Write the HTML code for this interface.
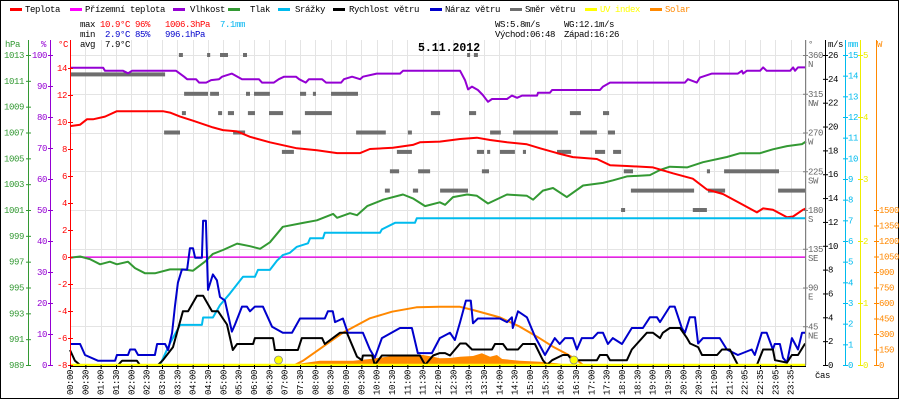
<!DOCTYPE html>
<html><head><meta charset="utf-8"><style>
html,body{margin:0;padding:0;background:#fff}
svg{display:block}
text{font-family:"Liberation Mono","DejaVu Sans Mono",monospace;font-size:9px;letter-spacing:-0.4px}
</style></head><body>
<svg id="c" xmlns="http://www.w3.org/2000/svg" width="900" height="400" viewBox="0 0 900 400">
<rect x="0.5" y="0.5" width="898" height="398" fill="#fff" stroke="#000"/>
<g id="grid"></g>
<g id="series"></g>
<g id="axes"></g>
<g id="legend"></g>
<g>
<text x="80" y="27">max</text><text x="100" y="27" fill="#f00">10.9°C</text><text x="135" y="27" fill="#f00">96%</text><text x="165" y="27" fill="#f00">1006.3hPa</text><text x="220" y="27" fill="#00b4f0">7.1mm</text>
<text x="80" y="37">min</text><text x="105" y="37" fill="#00c">2.9°C</text><text x="135" y="37" fill="#00c">85%</text><text x="165" y="37" fill="#00c">996.1hPa</text>
<text x="80" y="47">avg</text><text x="105" y="47">7.9°C</text>
<text x="495" y="27">WS:5.8m/s</text><text x="564" y="27">WG:12.1m/s</text>
<text x="495" y="37">Východ:06:48</text><text x="564" y="37">Západ:16:26</text>
<text x="418" y="51" style="font-size:11.5px;font-weight:bold;letter-spacing:0">5.11.2012</text>
</g>
</svg>
<script>
// ---------- data ----------
const tempT=[0,.33,.55,.75,1.14,1.53,1.96,3.03,3.26,3.59,4.01,4.66,4.99,5.45,5.87,6.52,7.4,8.05,8.71,9.46,9.78,10.53,11.18,11.41,12.06,12.72,13.27,13.7,14.25,14.9,15.33,15.88,16.4,17.18,17.61,18.16,19.01,19.66,20.31,20.77,21.29,21.85,22.4,22.6,22.92,23.38,23.58,23.9,24];
const tempV=[9.7,9.8,10.2,10.2,10.4,10.8,10.8,10.8,10.7,10.4,10.1,9.6,9.4,9.3,8.9,8.5,8.05,7.9,7.7,7.7,8.0,8.1,8.3,8.5,8.55,8.74,8.84,8.67,8.5,8.35,8.05,7.7,7.4,7.26,6.8,6.74,6.64,6.2,5.8,5.0,4.67,3.98,3.3,3.6,3.5,2.94,3.0,3.5,3.6];
const groundTempT=[0,24];
const groundTempV=[0,0];
const humT=[0,1.08,1.14,1.73,1.89,2.02,3.46,3.72,3.82,4.11,4.21,4.44,4.6,4.86,4.96,5.28,5.61,6.16,6.26,6.65,6.81,6.98,7.37,7.47,7.69,7.79,8.22,8.35,8.84,8.93,9.2,9.46,9.55,10.0,10.76,10.86,12.72,12.88,12.98,13.11,13.3,13.46,13.63,13.76,14.25,14.41,14.58,14.74,15.23,15.26,15.65,15.72,17.28,17.38,17.61,20.05,20.15,20.44,20.54,20.93,21.78,21.91,21.95,22.07,22.5,22.6,22.72,23.48,23.58,23.64,23.74,24];
const humV=[95.9,95.9,94.9,94.9,94.1,94.9,94.9,93,92.2,92.2,91.1,91.1,91.9,92.2,93,94,92.2,92.2,91.1,91.1,92.2,93,93,92.2,91.1,92.2,92.2,91.1,91.1,92.2,93,92.2,93,94,94,94.9,94.9,91.9,88.9,89.8,88.7,87.1,84.9,85.8,85.8,86.9,86.2,86.9,86.9,87.8,87.8,88.7,88.7,89.8,91.1,91.1,92.2,91.1,92.7,94,94,94.9,94,94.9,94.9,96,94.9,94.9,96,94.9,96,96];
const presT=[0,.33,.65,.98,1.3,1.53,1.89,2.12,2.45,2.77,3.26,3.68,4.01,4.4,4.66,4.99,5.45,5.87,6.2,6.52,6.94,7.6,8.05,8.58,8.71,9.13,9.36,9.69,10.21,10.86,11.18,11.58,12.06,12.23,12.49,12.95,13.27,13.63,14.25,14.9,15.1,15.42,15.75,16.2,16.73,17.38,17.71,18.16,18.91,19.24,19.56,20.12,20.64,21.42,21.85,22.5,22.92,23.38,23.87,24];
const presV=[997.3,997.4,997.2,996.8,997.0,996.8,997.0,996.5,996.1,996.1,996.4,996.4,996.3,997.0,997.6,997.9,998.4,998.2,998.0,998.5,999.7,1000.0,1000.2,1000.7,1000.4,1000.75,1000.6,1001.3,1001.8,1002.2,1001.9,1001.3,1001.6,1001.4,1002.0,1002.2,1002.1,1001.5,1002.2,1002.1,1001.8,1002.5,1002.7,1002.0,1002.9,1003.1,1003.3,1003.6,1003.7,1004.1,1004.35,1004.3,1004.7,1005.1,1005.4,1005.4,1005.7,1005.95,1006.1,1006.3];
const rainT=[0,2.93,3.26,3.59,3.68,4.30,4.34,4.66,4.89,5.22,5.64,6.03,6.13,6.52,6.75,6.94,7.17,7.40,7.76,7.83,8.25,8.31,10.11,10.17,10.6,11.25,11.31,24];
const rainV=[0,0,1.05,1.94,1.94,1.94,2.3,2.3,2.9,3.47,4.27,4.27,4.6,4.6,5.05,5.32,5.43,5.72,5.89,6.13,6.13,6.4,6.4,6.56,6.88,6.88,7.1,7.1];
const windT=[0,.16,.33,1.57,1.70,2.18,2.28,2.87,3.03,3.36,3.68,3.85,4.14,4.34,4.63,4.83,5.12,5.31,5.45,5.97,6.03,6.62,6.68,7.43,7.56,8.22,8.31,8.80,9.03,9.36,9.52,9.55,9.85,9.94,10.17,11.41,11.58,11.84,12.06,12.23,12.39,12.72,12.91,13.11,13.76,13.86,14.12,14.25,14.61,14.77,15.16,15.42,15.55,15.72,16.07,16.24,16.37,17.18,17.28,17.51,17.61,18.16,18.32,18.81,19.01,19.24,19.33,19.56,19.89,20.12,20.22,20.48,20.61,21.10,21.26,21.52,21.78,22.40,22.60,22.92,22.99,23.38,23.54,23.74,23.97];
const windV=[1.26,.36,0,0,.36,.36,0,0,.4,1.5,4.5,4.5,5.8,5.8,4.5,4.5,3.4,1.26,1.76,1.76,2.26,2.26,1.26,1.26,2.26,2.26,1.76,2.7,2.7,.7,.4,.8,.8,0,.8,.8,0,.8,1.0,1.0,.8,1.8,1.8,1.3,1.3,1.76,1.76,1.3,1.3,1.76,1.76,.4,0,.4,.84,.84,.4,.4,.84,.84,.4,.4,1.3,2.7,2.7,2.26,2.7,3.1,3.1,2.26,1.8,1.5,.84,.84,1.3,1.3,0,0,1.3,1.3,.4,.2,.84,.84,1.8];
const gustT=[0,.33,.49,.91,1.47,1.53,1.89,1.96,2.12,2.22,2.77,2.84,3.10,3.20,3.33,3.42,3.52,3.65,3.82,3.91,4.01,4.08,4.30,4.34,4.43,4.50,4.66,4.79,4.89,5.05,5.28,5.38,5.61,5.77,5.87,6.03,6.29,6.59,6.94,7.24,7.50,8.31,8.41,8.57,8.64,8.90,9.06,9.55,9.78,9.94,10.17,10.76,11.15,11.34,11.80,12.06,12.39,12.55,12.72,12.91,13.07,13.14,13.30,14.02,14.25,14.41,14.44,14.61,14.90,15.16,15.49,15.81,15.97,16.14,16.40,16.53,16.69,17.05,17.21,17.38,17.54,17.70,18.00,18.32,18.68,18.91,19.14,19.24,19.56,19.72,19.95,20.05,20.21,20.38,20.48,20.64,21.19,21.42,21.78,22.23,22.33,22.56,22.72,22.92,22.98,23.15,23.25,23.38,23.54,23.74,23.87,23.97];
const gustV=[1.76,1.76,.84,.36,.36,.84,.84,1.3,1.3,.84,.84,1.76,1.76,1.26,2.7,4.9,6.9,8.0,8.0,9.8,9.8,9.0,9.0,12.1,12.1,6.3,7.6,7.1,5.7,5.4,2.8,3.4,4.9,4.9,4.5,4.9,4.9,3.2,2.7,2.7,3.9,3.9,4.5,4.5,3.6,3.9,2.7,2.7,1.3,.6,2.26,3.1,3.1,1.0,1.0,2.26,2.7,2.1,3.6,5.4,5.4,3.5,3.9,3.9,3.6,4.0,3.1,4.5,4.0,2.4,.84,2.26,1.76,2.26,2.26,1.3,2.26,2.26,2.7,2.7,1.76,2.26,1.76,3.1,3.1,4.0,4.0,3.6,4.9,4.9,3.1,2.7,4.0,4.0,1.8,2.26,2.26,1.3,.84,1.3,.84,2.7,2.7,1.3,1.76,1.76,.6,.2,2.26,1.3,2.7,2.7];
const dirStart=[3.55,4.47,4.89,5.64,12.95,13.17, 0, 3.72,4.57,5.74,6.0,7.5,7.92,8.51, 3.65,4.83,5.15,5.8,6.49,7.66,11.77,13.01,16.3,17.38, 3.07,5.32,7.24,9.33,11.02,13.7,14.45,16.63,17.54, 6.91,10.66,13.27,13.6,14.02,14.77,15.88,17.12,17.71, 10.43,11.35,13.43,18.06,20.77,21.33, 10.27,11.18,12.07,18.29,20.8,23.09, 17.97,20.31];
const dirEnd=[3.68,4.57,5.15,5.77,13.04,13.3, 3.1, 4.5,4.86,5.87,6.52,7.7,8.02,9.39, 3.78,4.96,5.35,6.03,6.95,8.54,12.07,13.24,16.66,17.58, 3.59,5.71,7.53,10.3,11.15,14.05,15.91,17.18,17.77, 7.3,11.15,13.5,13.7,14.51,14.87,16.34,17.45,17.97, 10.73,11.74,13.66,18.36,20.87,23.12, 10.43,11.35,12.98,20.35,21.36,24, 18.1,20.77];
const dirDeg=[360,360,360,360,360,360, 337.5, 315,315,315,315,315,315,315, 292.5,292.5,292.5,292.5,292.5,292.5,292.5,292.5,292.5,292.5, 270,270,270,270,270,270,270,270,270, 247.5,247.5,247.5,247.5,247.5,247.5,247.5,247.5,247.5, 225,225,225,225,225,225, 202.5,202.5,202.5,202.5,202.5,202.5, 180,180];
const solarModelT=[7.33,7.6,8.25,8.9,9.78,10.5,11.3,12.06,12.7,13.14,14.02,14.67,15.23,15.75,16.2,16.53,16.73];
const solarModelV=[0,42,177,313,452,516,558,564,564,532,461,371,274,177,106,48,0];
const solarT=[7.4,8.15,9.23,9.78,10.34,10.86,11.51,11.84,12.06,12.39,12.72,13.14,13.43,13.7,13.92,14.09,14.67,15.33,15.88,16.3];
const solarV=[10,42,42,58,80,97,97,80,65,68,80,87,113,80,97,58,42,32,16,0];
const uvT=[0,24];
const uvV=[0,0];
const sunEvents=[6.8,16.433];
const xLabels=["00:00","00:30","01:00","01:30","02:00","02:30","03:00","03:30","04:00","04:30","05:00","05:30","06:00","06:30","07:00","07:30","08:00","08:30","09:00","09:30","10:00","10:30","11:00","11:30","12:00","12:30","13:00","13:30","14:00","14:30","15:00","15:30","16:00","16:30","17:00","17:30","18:00","18:30","19:00","19:30","20:00","20:30","21:00","21:30","22:05","22:35","23:05","23:35"];
const hpaTicks=[1013,1011,1009,1007,1005,1003,1001,999,997,995,993,991,989];
const humTicks=[100,90,80,70,60,50,40,30,20,10,0];
const tempTicks=[14,12,10,8,6,4,2,0,-2,-4,-6,-8];
const dirTicks=[[360,"N"],[315,"NW"],[270,"W"],[225,"SW"],[180,"S"],[135,"SE"],[90,"E"],[45,"NE"]];
const msTicks=[26,24,22,20,18,16,14,12,10,8,6,4,2,0];
const mmTicks=[15,14,13,12,11,10,9,8,7,6,5,4,3,2,1,0];
const uvTicks=[5,4,3,2,1,0];
const wTicks=[1500,1350,1200,1050,900,750,600,450,300,150,0];

// ---------- scales ----------
const X0=70,X1=806,YB=365,YT=55;
const xT=h=>X0+h*(X1-X0)/24;
const yTemp=t=>257-t*13.5;
const yHum=p=>YB-p*3.1;
const yPres=p=>YT+(1013-p)*12.917;
const yMM=m=>YB-m*20.667;
const yMS=v=>YB-v*11.923;
const yDeg=d=>YB-d*0.8611;
const yUV=u=>YB-u*62;
const yW=w=>YB-w*0.10333;

const NS="http://www.w3.org/2000/svg";
function mk(tag,parent,attrs){const e=document.createElementNS(NS,tag);for(const k in attrs)e.setAttribute(k,attrs[k]);parent.appendChild(e);return e;}
const G=document.getElementById('grid'),S=document.getElementById('series'),A=document.getElementById('axes'),L=document.getElementById('legend');

// grid
for(let i=0;i<=48;i++){const x=Math.round(X0+i*(X1-X0)/48)+.5;
 const l=mk('line',G,{x1:x,x2:x,y1:40,y2:YB,stroke:'#e4e4e4'});
 
 }
for(let i=0;i<=8;i++){const y=Math.round(YT+i*38.75)+.5;
 const l=mk('line',G,{x1:X0,x2:X1,y1:y,y2:y,stroke:'#e4e4e4'});
 
 }
const zl=mk('line',G,{x1:X0,x2:X1,y1:yTemp(0)+.5,y2:yTemp(0)+.5,stroke:'#888'});



function line(ts,vs,fy,color,w,name){
 const n=Math.min(ts.length,vs.length);let pts=[];
 for(let i=0;i<n;i++)pts.push(xT(ts[i]).toFixed(1)+','+fy(vs[i]).toFixed(1));
 const p=mk('polyline',S,{points:pts.join(' '),fill:'none',stroke:color,'stroke-width':w,'stroke-linejoin':'round'});
 
 
 return p;
}
// solar area
{const n=Math.min(solarT.length,solarV.length);let pts=[xT(solarT[0]).toFixed(1)+','+YB];
 for(let i=0;i<n;i++)pts.push(xT(solarT[i]).toFixed(1)+','+yW(solarV[i]).toFixed(1));
 pts.push(xT(solarT[n-1]).toFixed(1)+','+YB);
 const p=mk('polygon',S,{points:pts.join(' '),fill:'#ff8800'});
 
 }
// wind direction
for(let i=0;i<dirDeg.length;i++){
 const x=xT(dirStart[i]),x2=xT(dirEnd[i]);
 const r=mk('rect',S,{x:x.toFixed(1),y:(yDeg(dirDeg[i])-2).toFixed(1),width:Math.max(3,x2-x).toFixed(1),height:4,fill:'#6e6e6e'});
 
 }
line(groundTempT,groundTempV,yTemp,'#ff00ff',1.2,'ground-temperature-line');
line(solarModelT,solarModelV,yW,'#ff8800',2,'solar-theoretical-line');
line(presT,presV,yPres,'#339933',2,'pressure-line');
line(humT,humV,yHum,'#9400d3',2,'humidity-line');
line(tempT,tempV,yTemp,'#ff0000',2,'temperature-line');
line(rainT,rainV,yMM,'#00bbee',2,'precipitation-line');
line(gustT,gustV,yMS,'#0000cc',2,'wind-gust-line');
line(windT,windV,yMS,'#000000',2,'wind-speed-line');
line(uvT,uvV,yUV,'#ffff00',2.5,'uv-index-line');
for(const s of sunEvents){const c=mk('circle',S,{cx:xT(s).toFixed(1),cy:360,r:4,fill:'#ffff00',stroke:'#888','stroke-width':.8});
 
 }

// axes
function vaxis(x,color,name,ticks,fy,lx,anchor,lab,header,hx){
 const g=mk('g',A,{});
 
 
 mk('line',g,{x1:x+.5,x2:x+.5,y1:40,y2:YB+1,stroke:color});
 for(const t of ticks){const v=Array.isArray(t)?t[0]:t;const y=fy(v);
  mk('line',g,{x1:x-2,x2:x+3,y1:y+.5,y2:y+.5,stroke:color});
  const tx=mk('text',g,{x:lx,y:y+3,fill:lab||color,'text-anchor':anchor});tx.textContent=v;
  if(Array.isArray(t)){const t2=mk('text',g,{x:lx,y:y+12,fill:lab||color,'text-anchor':anchor});t2.textContent=t[1];}}
 const h=mk('text',g,{x:hx,y:47,fill:lab||color});h.textContent=header;
}
vaxis(28,'#339933','pressure-axis',hpaTicks,yPres,24,'end',null,'hPa',5);
vaxis(50,'#9400d3','humidity-axis',humTicks,yHum,47,'end',null,'%',41);
vaxis(70,'#ff0000','temperature-axis',tempTicks,yTemp,67,'end',null,'°C',58);
vaxis(805,'#808080','wind-direction-axis',dirTicks,yDeg,808,'start','#666','°',808);
vaxis(825,'#000000','wind-speed-axis',msTicks,yMS,828,'start',null,'m/s',828);
vaxis(845,'#00bbee','precipitation-axis',mmTicks,yMM,848,'start',null,'mm',848);
vaxis(860,'#eeee00','uv-axis',uvTicks,yUV,863,'start',null,'',863);
vaxis(876,'#ff8800','solar-axis',wTicks.filter(w=>w<=1500),yW,879,'start',null,'W',877);
// x axis
{const g=mk('g',A,{});
 
 
 mk('line',g,{x1:X0,x2:X1,y1:YB+1.5,y2:YB+1.5,stroke:'#000'});
 xLabels.forEach((s,i)=>{const x=X0+i*(X1-X0)/48;
  mk('line',g,{x1:x+.5,x2:x+.5,y1:YB,y2:YB+4,stroke:'#000'});
  const t=mk('text',g,{x:0,y:0,'text-anchor':'end',transform:`translate(${(x+3).toFixed(1)},370) rotate(-90)`});t.textContent=s;});
 const c=mk('text',g,{x:815,y:378});c.textContent='čas';}

// legend
const legItems=[["Teplota","#ff0000",10,25],["Přízemní teplota","#ff00ff",70,85],["Vlhkost","#9400d3",173,190],["Tlak","#339933",228,250],["Srážky","#00bbee",278,295],["Rychlost větru","#000000",333,349],["Náraz větru","#0000cc",430,445],["Směr větru","#6e6e6e",510,525],["UV index","#ffff00",585,600],["Solar","#ff8800",650,665]];
legItems.forEach(it=>{const g=mk('g',L,{});
 
 
 mk('rect',g,{x:it[2],y:8,width:12,height:3,fill:it[1]});
 const t=mk('text',g,{x:it[3],y:12,fill:(it[0]==="UV index"||it[0]==="Solar")?it[1]:'#000'});t.textContent=it[0];});
</script>
</body></html>
